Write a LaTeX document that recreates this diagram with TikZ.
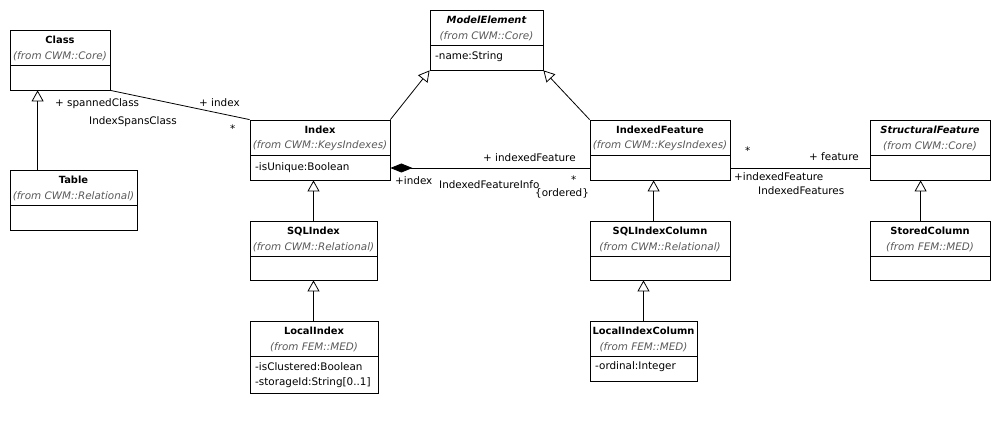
\documentclass[tikz,border=0pt]{standalone}
\usepackage{fontspec}
\setmainfont{DejaVu Sans}
\usetikzlibrary{arrows.meta}
\definecolor{fromgray}{HTML}{5A5A5A}
\newcommand\umlclass[7]{%
  \node[box, minimum width={(#4-#2)*1pt}, minimum height={(#5-#3)*1pt}] (#1) at ({(#2+#4)/2},{(#3+#5)/2}) {};
  \node[titletext] (#1-title) at ({(#2+#4)/2},{#3+10}) {#6};
  \node[fromtext] (#1-from) at ({(#2+#4)/2},{#3+26}) {(from #7)};
  \draw[thin line] (#2,{#3+35}) -- (#4,{#3+35});
}
\tikzset{
  box/.style={draw, line width=0.8pt, inner sep=0pt, fill=white},
  thin line/.style={line width=0.8pt},
  titletext/.style={inner sep=0pt, font=\fontsize{9.9}{11}\selectfont\bfseries},
  fromtext/.style={inner sep=0pt, text=fromgray, font=\fontsize{10.4}{12}\selectfont\itshape},
  attr/.style={inner sep=0pt, anchor=west, font=\fontsize{10.4}{12}\selectfont},
  lbl/.style={inner sep=0pt, anchor=west, font=\fontsize{10.4}{12}\selectfont},
  gen/.style={line width=0.8pt, -{Triangle[open,length=11pt,width=12pt,line width=0.8pt]}},
  assoc/.style={line width=0.8pt},
  comp/.style={line width=0.8pt, {Diamond[length=22pt,width=9pt]}-},
}
\begin{document}
\begin{tikzpicture}[x=1pt,y=-1pt]
\useasboundingbox[fill=white] (0,0) rectangle (994,425);

\umlclass{Class}{10}{30}{110}{90}{Class}{CWM::Core}
\umlclass{Table}{10}{170}{137}{230}{Table}{CWM::Relational}
\umlclass{ModelElement}{430}{10}{543}{70}{\itshape ModelElement}{CWM::Core}
\node[attr] (me-a1) at (435,57) {-name:String};
\umlclass{Index}{250}{120}{390}{180}{Index}{CWM::KeysIndexes}
\node[attr] (ix-a1) at (255,168) {-isUnique:Boolean};
\umlclass{IndexedFeature}{590}{120}{730}{180}{IndexedFeature}{CWM::KeysIndexes}
\umlclass{StructuralFeature}{870}{120}{990}{180}{\itshape StructuralFeature}{CWM::Core}
\umlclass{SQLIndex}{250}{221}{377}{280}{SQLIndex}{CWM::Relational}
\umlclass{SQLIndexColumn}{590}{221}{730}{280}{SQLIndexColumn}{CWM::Relational}
\umlclass{StoredColumn}{870}{221}{990}{280}{StoredColumn}{FEM::MED}
\umlclass{LocalIndex}{250}{321}{378}{393}{LocalIndex}{FEM::MED}
\node[attr] (li-a1) at (255,367) {-isClustered:Boolean};
\node[attr] (li-a2) at (255,383) {-storageId:String[0..1]};
\umlclass{LocalIndexColumn}{590}{321}{697}{381}{LocalIndexColumn}{FEM::MED}
\node[attr] (lic-a1) at (595,367) {-ordinal:Integer};

% generalizations
\draw[gen] ([xshift=28pt]Table.north west) -- ([xshift=28pt]Class.south west);
\draw[gen] (Index.north east) -- (ModelElement.south west);
\draw[gen] (IndexedFeature.north west) -- (ModelElement.south east);
\draw[gen] (SQLIndex.north) -- (SQLIndex.north |- Index.south);
\draw[gen] (LocalIndex.north -| SQLIndex.north) -- (SQLIndex.south);
\draw[gen] ([xshift=64pt]SQLIndexColumn.north west) -- ([xshift=64pt]IndexedFeature.south west);
\draw[gen] (LocalIndexColumn.north) -- (LocalIndexColumn.north |- SQLIndexColumn.south);
\draw[gen] ([xshift=51pt]StoredColumn.north west) -- ([xshift=51pt]StructuralFeature.south west);

% associations
\draw[assoc] (Class.south east) -- (Index.north west);
\draw[comp] ([yshift=-18pt]Index.east) -- ([yshift=-18pt]IndexedFeature.west);
\draw[assoc] ([yshift=-18pt]IndexedFeature.east) -- ([yshift=-18pt]StructuralFeature.west);

% labels
\node[lbl] (l1) at (55,104) {+ spannedClass};
\node[lbl] (l2) at (89,122) {IndexSpansClass};
\node[lbl] (l3) at (199,103) {+ index};
\node[lbl] (l4) at (230,129) {*};
\node[lbl] (l5) at (483,158) {+ indexedFeature};
\node[lbl] (l6) at (395,181) {+index};
\node[lbl] (l7) at (439,185) {IndexedFeatureInfo};
\node[lbl] (l8) at (571,180) {*};
\node[lbl] (l9) at (535,193) {\{ordered\}};
\node[lbl] (l10) at (745,151) {*};
\node[lbl] (l11) at (809,157) {+ feature};
\node[lbl] (l12) at (734,177) {+indexedFeature};
\node[lbl] (l13) at (758,191) {IndexedFeatures};
\end{tikzpicture}
\end{document}
